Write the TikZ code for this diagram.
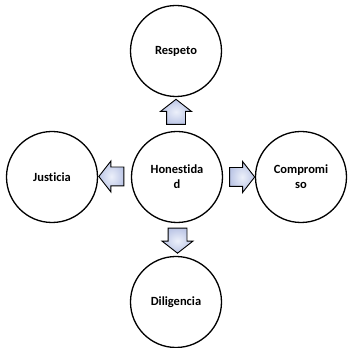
\documentclass[tikz,border=0pt]{standalone}
\usepackage{fontspec}
\setmainfont[Ligatures={NoCommon}]{Carlito}
\usetikzlibrary{positioning,shapes.arrows,calc}
\definecolor{arrfill}{RGB}{188,198,230}
\definecolor{arrlight}{RGB}{236,240,250}

\begin{document}
\begin{tikzpicture}[
  x=1pt, y=1pt,
  font=\fontsize{12.5}{15}\selectfont\bfseries,
  valor/.style={circle, draw=black, line width=1.3pt, minimum size=91pt,
                inner sep=0pt, align=center, fill=white},
  flecha/.style={single arrow, draw=black, line width=0.9pt,
                 inner xsep=0pt, inner ysep=9pt,
                 minimum height=25pt,
                 single arrow head extend=6pt, single arrow head indent=0pt,
                 single arrow tip angle=104,
                 inner color=arrlight, outer color=arrfill},
]
\useasboundingbox (0,0) rectangle (349,348);

% ---- central value ----
\node[valor] (hon) at (177,171) {Honestida\\d};

% ---- surrounding values ----
\node[valor] (res) at (176,297) {Respeto};
\node[valor] (jus) at (52,171) {Justicia};
\node[valor] (com) at (301,171) {Compromi\\so};
\node[valor] (dil) at (176,46) {Diligencia};

% ---- block arrows from the centre outwards ----
\node[flecha, rotate=90]  (fres) at (176,232.5) {};
\node[flecha, rotate=270] (fdil) at (177.5,111) {};
\node[flecha]             (fcom) at (238.5,171) {};
\node[flecha, rotate=180] (fjus) at (115,171.5) {};

\end{tikzpicture}
\end{document}
